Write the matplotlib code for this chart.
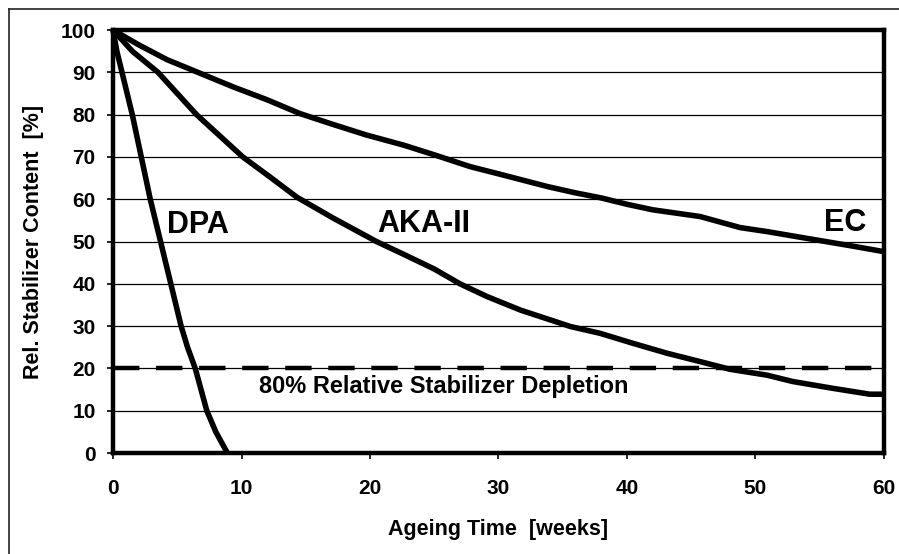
import matplotlib
matplotlib.use("Agg")
import matplotlib.pyplot as plt
from matplotlib.lines import Line2D

plt.rcParams['font.family'] = ['Liberation Sans', 'DejaVu Sans']
plt.rcParams['font.weight'] = 'bold'
plt.rcParams['lines.scale_dashes'] = False

# ---- data ----
dpa_weeks = [0, 0.3, 0.7, 1.5, 2.2, 2.9, 3.7, 4.5, 5.3, 5.8, 6.4, 7.3, 8.0, 8.9]
dpa_content = [100, 95, 90, 80, 70, 60, 50, 40, 30, 25, 20, 10, 5, 0]

aka_weeks = [0, 1.5, 3.5, 6.5, 10.1, 12.2, 14.3, 17.1, 20.5, 22.6, 25, 27, 29.1, 31.7, 35.6,
             37.9, 40.5, 43.1, 45.7, 48, 50.9, 52.9, 56, 58.9, 60]
aka_content = [100, 95, 90, 80, 70, 65.3, 60.5, 55.6, 50, 47, 43.5, 40, 37, 33.8, 29.9,
               28.3, 25.9, 23.6, 21.6, 19.8, 18.4, 16.9, 15.3, 13.9, 13.9]

ec_weeks = [0, 2, 4.2, 7, 9.4, 12, 14.5, 17, 19.7, 22.6, 25, 27.8, 30, 33.8, 36, 38, 40, 42,
            45.7, 48.8, 51, 53.5, 57.4, 60]
ec_content = [100, 96.5, 93, 89.5, 86.5, 83.5, 80.3, 77.8, 75.2, 72.8, 70.5, 67.7, 66, 63, 61.5,
              60.3, 58.8, 57.5, 55.9, 53.3, 52.3, 51, 49, 47.6]

depletion_limit = 20
x_ticks = [0, 10, 20, 30, 40, 50, 60]
y_ticks = [0, 10, 20, 30, 40, 50, 60, 70, 80, 90, 100]

fig = plt.figure(figsize=(8.99, 5.54), dpi=100)
ax = fig.add_axes([0.1257, 0.1823, 0.9833 - 0.1257, 0.9458 - 0.1823])

# outer chart frame (left + top edges visible)
fig.add_artist(Line2D([8.5 / 899, 8.5 / 899], [0, 1 - 9.3 / 554], transform=fig.transFigure,
                      color='#222222', lw=1.2))
fig.add_artist(Line2D([8.5 / 899, 1], [1 - 9.3 / 554, 1 - 9.3 / 554], transform=fig.transFigure,
                      color='#222222', lw=1.2))

for yv in y_ticks[1:-1]:
    ax.axhline(yv, color='black', lw=0.9, zorder=1)

ax.plot([x_ticks[0], x_ticks[-1]], [depletion_limit, depletion_limit], color='black', lw=3.2,
        dashes=(19, 12), zorder=2)

for xs, ys in [(dpa_weeks, dpa_content), (aka_weeks, aka_content), (ec_weeks, ec_content)]:
    ax.plot(xs, ys, color='black', lw=4.0, solid_joinstyle='round', solid_capstyle='butt',
            zorder=3, clip_on=False)

ax.set_xlim(0, 60)
ax.set_ylim(0, 100)
ax.set_xticks(x_ticks)
ax.set_yticks(y_ticks)
for s in ax.spines.values():
    s.set_linewidth(3.2)
    s.set_zorder(4)
ax.tick_params(axis='both', direction='out', length=4.5, width=1.2, labelsize=15)
ax.tick_params(axis='y', pad=8)
ax.tick_params(axis='x', pad=14)

ax.set_xlabel('Ageing Time  [weeks]', fontsize=15.5, fontweight='bold', labelpad=15)
ax.set_ylabel('Rel. Stabilizer Content  [%]', fontsize=15.5, fontweight='bold', labelpad=12)

ax.text(4.2, 53.9, 'DPA', fontsize=22, fontweight='bold', ha='left', va='center')
ax.text(20.6, 54.1, 'AKA-II', fontsize=22, fontweight='bold', ha='left', va='center')
ax.text(58.6, 54.4, 'EC', fontsize=22, fontweight='bold', ha='right', va='center')
ax.text(11.4, 15.7, '80% Relative Stabilizer Depletion', fontsize=17, fontweight='bold',
        ha='left', va='center')

fig.savefig('out.png', dpi=100)
